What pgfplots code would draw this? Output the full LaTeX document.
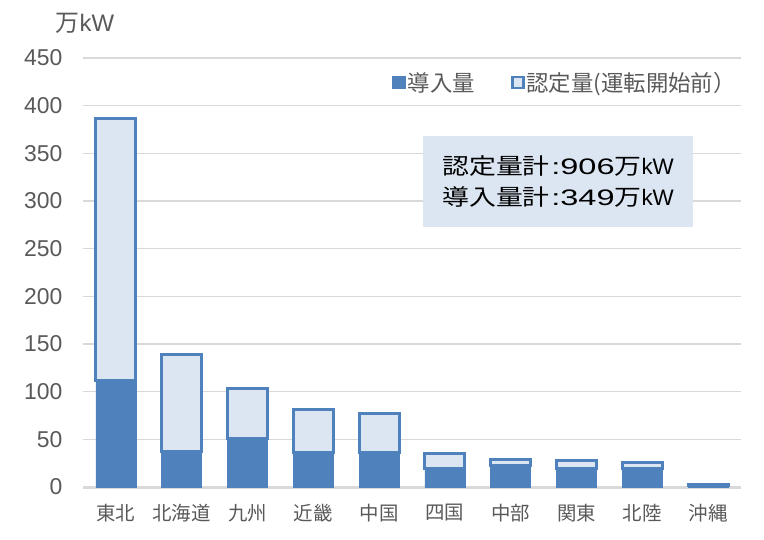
\documentclass[border=0pt]{standalone}
\usepackage{pgfplots}
\usepackage{pgfplotstable}
\pgfplotsset{compat=1.18}
\usepackage{fontspec}
\setmainfont{Liberation Sans}
\newfontfamily\cjk{Noto Sans CJK JP}
\newfontfamily\bcjk[FakeStretch=1.2]{Noto Sans CJK JP}
\newfontfamily\blat[FakeStretch=1.45]{Liberation Sans}

\definecolor{barblue}{HTML}{4F81BD}
\definecolor{barlight}{HTML}{DCE6F2}
\definecolor{gridgray}{HTML}{D9D9D9}
\definecolor{txtgray}{HTML}{595959}

% 導入量 / 認定量(運転開始前), 万kW
\pgfplotstableread{
x dounyu nintei
0 112  274.5
1 37   102.5
2 51   52.5
3 36   45
4 36   41.5
5 19   16
6 23   5.5
7 19   8.5
8 19   7
9 1.5  1
}\datatable

\begin{document}
\begin{tikzpicture}
\begin{axis}[
    ybar stacked,
    scale only axis,
    width=658bp, height=429bp,
    bar width=40bp,
    xmin=-0.5, xmax=9.5,
    ymin=0, ymax=450,
    ytick={0,50,...,450},
    xtick={0,...,9},
    xticklabels={東北,北海道,九州,近畿,中国,四国,中部,関東,北陸,沖縄},
    axis line style={draw=none},
    major tick length=0pt,
    ymajorgrids,
    grid style={gridgray, line width=1.5bp},
    extra y ticks={0},
    extra y tick labels={},
    extra y tick style={grid style={gridgray, line width=3bp}},
    yticklabel style={font=\fontsize{23}{23}\selectfont, text=txtgray, anchor=east, xshift=-17bp},
    xticklabel style={font=\cjk\fontsize{19.5}{19.5}\selectfont, text=txtgray, yshift=-14bp},
    /pgf/number format/assume math mode=true,
    clip=false,
    legend columns=2,
    legend style={draw=none, fill=none, at={(1,1)}, anchor=north east,
        xshift=0bp, yshift=-10bp,
        font=\cjk\fontsize{22.5}{22.5}\selectfont, text=txtgray,
        /tikz/every even column/.append style={column sep=34bp}},
    legend image code/.code={\draw[#1, line width=2.5bp] (0bp,-5.5bp) rectangle (11bp,5.5bp);},
]
\addplot[fill=barblue, draw=barblue, line width=0.5bp] table[x=x, y=dounyu] {\datatable};
\addplot[fill=barlight, draw=barblue, line width=3bp] table[x=x, y=nintei] {\datatable};
\legend{導入量, 認定量(運転開始前）}

\node[anchor=center, fill=barlight, minimum width=270bp, minimum height=91bp,
      align=left, font=\fontsize{22.5}{31}\selectfont, text=black]
  at (axis cs:6.72,320)
  {{\bcjk 認定量計}\hspace{1.5bp}{\blat :906}{\bcjk 万}kW\\{\bcjk 導入量計}\hspace{1.5bp}{\blat :349}{\bcjk 万}kW};

\node[font=\fontsize{24}{24}\selectfont, text=txtgray]
  at ([xshift=2bp, yshift=35bp]rel axis cs:0,1) {{\cjk 万}kW};
\end{axis}
\pgfresetboundingbox
\useasboundingbox (-83bp,-53bp) rectangle (681bp,487bp);
\end{tikzpicture}
\end{document}
